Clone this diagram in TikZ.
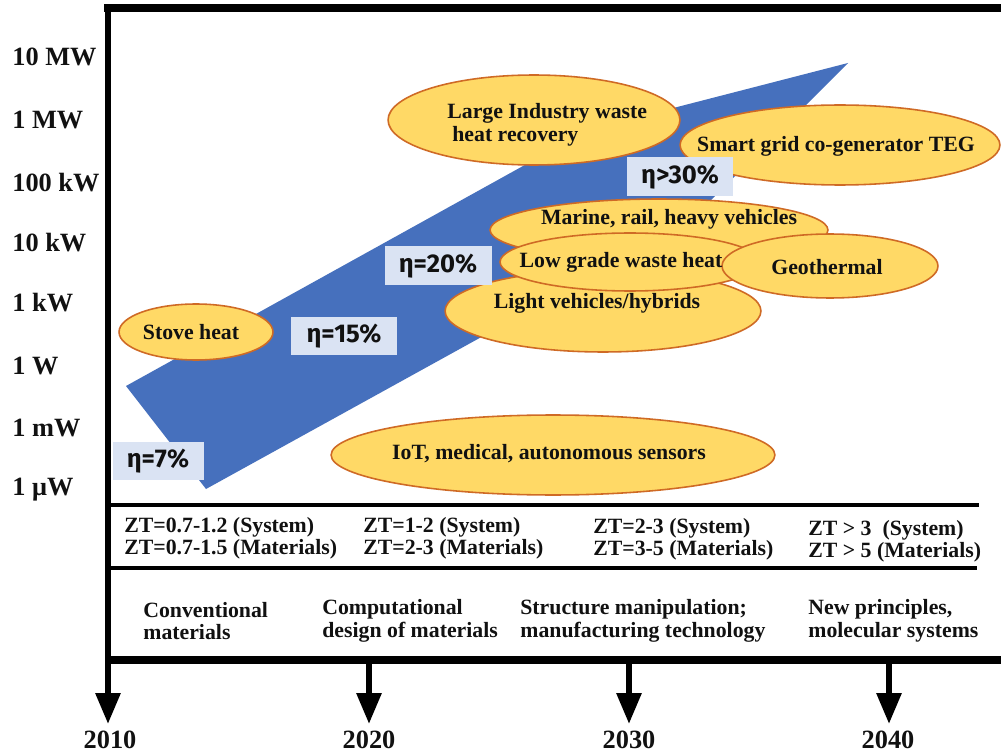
\documentclass[tikz,border=0pt]{standalone}
\usepackage{fontspec}
\setmainfont{Liberation Serif}
\newfontfamily\etafont{Fira Sans}
\usetikzlibrary{shapes.geometric,arrows.meta}
\definecolor{bandblue}{HTML}{4670BD}
\definecolor{ellfill}{HTML}{FFD966}
\definecolor{elldraw}{HTML}{CF6A25}
\definecolor{boxfill}{HTML}{DAE3F3}
\definecolor{ink}{HTML}{111111}
\tikzset{
  px/.style={x=0.02cm,y=-0.02cm},
  ellbox/.style 2 args={ellipse,draw=elldraw,fill=ellfill,line width=0.9pt,inner sep=0pt,
     minimum width=#1*0.04cm,minimum height=#2*0.04cm},
  elltext/.style={font=\bfseries\fontsize{12.4}{13.2}\selectfont,text=ink,inner sep=0pt},
  etabox/.style 2 args={fill=boxfill,inner sep=0pt,minimum width=#1*0.02cm,minimum height=#2*0.02cm,
     font=\etafont\bfseries\fontsize{14.6}{16}\selectfont,text=ink},
  axislabel/.style={anchor=west,font=\bfseries\fontsize{15}{17}\selectfont,text=ink,inner sep=0pt},
  ztlabel/.style={anchor=west,font=\bfseries\fontsize{12.4}{13}\selectfont,text=ink,inner sep=0pt},
  yearlabel/.style={font=\bfseries\fontsize{15}{17}\selectfont,text=ink,inner sep=0pt},
  frameline/.style={line width=4pt,draw=black},
  rowline/.style={line width=2.3pt,draw=black},
  yeararrow/.style={line width=3.4pt,draw=black,-{Triangle[width=0.48cm,length=0.62cm]}},
}
\begin{document}
\begin{tikzpicture}[px]
\useasboundingbox (0,0) rectangle (1001,753);
\fill[white] (0,0) rectangle (1001,753);

% band arrow
\fill[bandblue] (126,386) -- (206,489) -- (688,223) -- (848,63) -- (588,130) -- cycle;

% ellipses
\node[ellbox={77}{28}] (stove) at (196,332) {};
\node[ellbox={146}{45}] (large) at (534,120) {};
\node[ellbox={160}{40}] (smart) at (840,145) {};
\node[ellbox={169}{31}] (marine) at (659,230) {};
\node[ellbox={158}{41}] (light) at (603,311) {};
\node[ellbox={130}{29}] (low) at (630,262) {};
\node[ellbox={108}{32}] (geo) at (830,266) {};
\node[ellbox={222}{40}] (iot) at (553,455) {};

% ellipse texts
\node[elltext] (tstove) at (191,332) {Stove heat};
\node[elltext,anchor=west,align=left] (tlarge) at (447,125) {Large Industry waste\\\hspace*{0.1cm}heat recovery};
\node[elltext] (tsmart) at (836,146) {Smart grid co-generator TEG};
\node[elltext] (tmarine) at (669,219) {Marine, rail, heavy vehicles};
\node[elltext] (tlight) at (597,303) {Light vehicles/hybrids};
\node[elltext] (tlow) at (621,262) {Low grade waste heat};
\node[elltext] (tgeo) at (827,267) {Geothermal};
\node[elltext] (tiot) at (549,454) {IoT, medical, autonomous sensors};

% efficiency boxes
\node[etabox={91}{38}] (e7) at (158,461) {η=7\%};
\node[etabox={106}{38}] (e15) at (344,336) {η=15\%};
\node[etabox={107}{39}] (e20) at (438,266) {η=20\%};
\node[etabox={106}{39}] (e30) at (680,177) {η>30\%};

% axis labels
\node[axislabel] (l10MW) at (12,57) {10 MW};
\node[axislabel] (l1MW) at (12,120) {1 MW};
\node[axislabel] (l100kW) at (12,183) {100 kW};
\node[axislabel] (l10kW) at (12,243) {10 kW};
\node[axislabel] (l1kW) at (12,303) {1 kW};
\node[axislabel] (l1W) at (12,366) {1 W};
\node[axislabel] (l1mW) at (12,428) {1 mW};
\node[axislabel] (l1uW) at (12,490) {1 μW};

% frame
\coordinate (topL) at (104,8);
\coordinate (topR) at (1001,8);
\coordinate (leftTop) at (108,6);
\coordinate (tip2010) at (108,724);
\coordinate (botL) at (106,660);
\coordinate (botR) at (1001,660);
\draw[frameline] (topL) -- (topR);
\draw[frameline] (botL) -- (botR);
\draw[yeararrow] (leftTop) -- (tip2010);
\coordinate (r1L) at (108,505);
\coordinate (r1R) at (979,505);
\coordinate (r2L) at (108,568);
\coordinate (r2R) at (977,568);
\draw[rowline] (r1L) -- (r1R);
\draw[rowline] (r2L) -- (r2R);

% year arrows
\coordinate (s2020) at (369,660); \coordinate (tip2020) at (369,724);
\coordinate (s2030) at (629,660); \coordinate (tip2030) at (629,724);
\coordinate (s2040) at (889,660); \coordinate (tip2040) at (889,724);
\draw[yeararrow] (s2020) -- (tip2020);
\draw[yeararrow] (s2030) -- (tip2030);
\draw[yeararrow] (s2040) -- (tip2040);
\node[yearlabel] (y2010) at (110,740) {2010};
\node[yearlabel] (y2020) at (369,740) {2020};
\node[yearlabel] (y2030) at (629,740) {2030};
\node[yearlabel] (y2040) at (888,740) {2040};

% ZT rows
\node[ztlabel] (z1a) at (124,527) {ZT=0.7-1.2 (System)};
\node[ztlabel] (z1b) at (124,549) {ZT=0.7-1.5 (Materials)};
\node[ztlabel] (z2a) at (363,527) {ZT=1-2 (System)};
\node[ztlabel] (z2b) at (363,549) {ZT=2-3 (Materials)};
\node[ztlabel] (z3a) at (593,528) {ZT=2-3 (System)};
\node[ztlabel] (z3b) at (593,550) {ZT=3-5 (Materials)};
\node[ztlabel] (z4a) at (808,530) {ZT > 3\ \ (System)};
\node[ztlabel] (z4b) at (808,552) {ZT > 5 (Materials)};

% technology row
\node[ztlabel,align=left] (m1) at (143,621) {Conventional\\materials};
\node[ztlabel,align=left] (m2) at (322,621) {Computational\\design of materials};
\node[ztlabel,align=left] (m3) at (520,621) {Structure manipulation;\\manufacturing technology};
\node[ztlabel,align=left] (m4) at (808,621) {New principles,\\molecular systems};
\end{tikzpicture}
\end{document}
